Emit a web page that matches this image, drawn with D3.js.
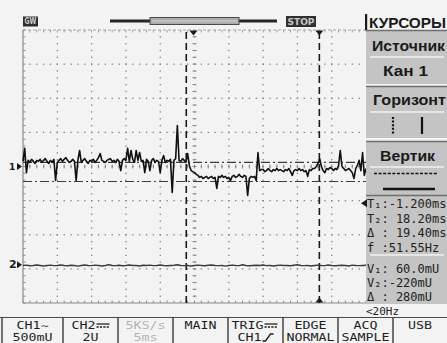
<!DOCTYPE html>
<html>
<head>
<meta charset="utf-8">
<script src="https://cdn.jsdelivr.net/npm/d3@7"></script>
<style>
  html, body { margin: 0; padding: 0; background: #f3f3f3; }
  svg { display: block; }
</style>
</head>
<body>
<svg id="scope" width="447" height="343"></svg>
<script>
// ---- acquisition record ----
const timeStartMs = -25;          // left edge of the screen
const timeEndMs = 25;             // right edge (10 div x 5 ms)
const ch1StepMs = 0.25;
const ch2StepMs = 0.5;
const ch1mVPerDiv = 500;
const ch2mVPerDiv = 2000;
const ch1OffsetDiv = 0;
const ch2OffsetDiv = -2.88;

// CH1 samples, mV
const ch1mV = [
  75, 265, -90, 90, 60, 105, 75, 45, 90, 75,
  105, 60, 90, 115, 75, 45, 90, 60, 105, -205,
  60, 90, 115, 75, 105, 130, 90, 60, 75, 105,
  75, -205, 90, 235, 60, 90, 115, 75, 45, 90,
  75, 105, 60, 90, 130, 190, 90, 75, 60, 90,
  105, 115, 75, 90, 60, 105, 75, -60, 90, 115,
  90, 265, 75, 235, 105, 60, 235, 90, 205, 75,
  90, -90, 105, 75, -60, 90, 115, 60, 90, 75,
  -90, 90, 160, 60, 90, 75, 105, -380, 90, 115,
  600, 90, 75, 115, 90, 60, 190, 15, -60, -75,
  -90, -115, -130, -160, -145, -175, -160, -145, -175, -160,
  -145, -175, -160, -320, -145, -160, -130, -160, -145, -175,
  -160, -205, -145, -130, -160, -145, -115, -145, -160, -130,
  -145, -425, -175, -145, -160, -145, -205, 205, -60, -45,
  -45, -75, -60, -30, -60, -75, -45, -60, -30, -60,
  -45, -60, -75, -45, -60, -30, -75, -130, -60, -45,
  -60, -30, -60, -45, -75, -60, -145, -45, -60, -30,
  -30, 0, 45, 115, 0, -60, -90, -30, -45, -15,
  -30, -60, -30, -45, 15, 235, 0, -30, -60, -45,
  -30, -60, -90, -175, -30, 15, 90, -60, 205, -130, -30
];

// CH2 samples, mV
const ch2mV = [
  -40, -20, -60, -40, -10, -40, -70, -40, -20, -50,
  -40, -10, -40, -60, -30, -40, -80, -40, -10, -40,
  -50, -20, -40, -70, -40, 0, -40, -50, -30, -60,
  -40, -10, -40, -40, -70, -30, -40, -20, -50, -40,
  -10, -40, -60, -40, -30, 0, -40, -50, -40, -70,
  -40, -20, -40, -60, -30, -10, -40, -50, -40, -80,
  -40, -20, -40, -50, 0, -40, -60, -40, -30, -40,
  -10, -50, -40, -70, -40, -20, -40, -40, -60, -30,
  0, -40, -50, -40, -70, -40, -20, -40, -50, -10,
  -40, -60, -40, -30, -40, -70, -20, -40, -50, -40,
  -30
];

// cursor positions and trigger
const cursorTms = [-1.2, 18.2];
const cursorVmV = [60, -220];
const triggerLevelmV = -540;

// right-hand menu and readouts
const menuTitle = "КУРСОРЫ";
const menuItems = [["Источник", "Кан 1"], ["Горизонт", null], ["Вертик", null]];
const timeReadouts = ["T₁:-1.200ms", "T₂: 18.20ms", "Δ : 19.40ms", "f :51.55Hz"];
const voltReadouts = ["V₁: 60.0mU", "V₂:-220mU", "Δ : 280mU"];
const filterNote = "<20Hz";

// status bar cells: [top line, bottom line, greyed]
const statusCells = [
  ["CH1∼", "500mU", false],
  ["CH2", "2U", false],
  ["5KS/s", "5ms", true],
  ["MAIN", "", false],
  ["TRIG", "CH1", false],
  ["EDGE", "NORMAL", false],
  ["ACQ", "SAMPLE", false],
  ["USB", "", false]
];

// ---- drawing ----
const svg = d3.select("#scope");
const X0 = 23, X1 = 366, Y0 = 30, Y1 = 303;
const x = d3.scaleLinear().domain([timeStartMs, timeEndMs]).range([X0, X1]);
const yDiv = d3.scaleLinear().domain([-4, 4]).range([Y1, Y0]);
const y1 = v => yDiv(ch1OffsetDiv + v / ch1mVPerDiv);
const y2 = v => yDiv(ch2OffsetDiv + v / ch2mVPerDiv);

function label(sel, px, py, s, o = {}) {
  const t = sel.append("text")
    .attr("x", px).attr("y", py)
    .attr("dominant-baseline", "central")
    .attr("font-family", o.family || "DejaVu Sans Mono")
    .attr("font-size", o.size || 12)
    .attr("font-weight", o.weight || "normal")
    .attr("fill", o.fill || "#1a1a1a")
    .attr("text-anchor", o.anchor || "start")
    .text(s);
  if (o.len) t.attr("textLength", o.len).attr("lengthAdjust", "spacingAndGlyphs");
  return t;
}

svg.append("rect").attr("width", 447).attr("height", 343).attr("fill", "#f3f3f3");

// graticule
const grid = svg.append("g");
const xMinor = d3.range(0, 50.001, 1).map(k => X0 + k * (X1 - X0) / 50);
const yMinor = d3.range(0, 40.001, 1).map(k => Y0 + k * (Y1 - Y0) / 40);
const xMajor = d3.range(-20, 21, 5).map(t => x(t));
const yMajor = d3.range(-3, 4, 1).map(d => yDiv(d));

xMajor.forEach(gx => {
  yMinor.slice(1, -1).forEach(gy => {
    grid.append("rect").attr("x", gx - 0.6).attr("y", gy - 0.6)
      .attr("width", 1.3).attr("height", 1.3).attr("fill", "#7d7d7d");
  });
});
yMajor.forEach(gy => {
  xMinor.slice(1, -1).forEach(gx => {
    grid.append("rect").attr("x", gx - 0.6).attr("y", gy - 0.6)
      .attr("width", 1.3).attr("height", 1.3).attr("fill", "#7d7d7d");
  });
});
// centre cross ticks
const cx = x(0), cy = yDiv(0);
yMinor.slice(1, -1).forEach(gy => {
  grid.append("line").attr("x1", cx - 2).attr("x2", cx + 2).attr("y1", gy).attr("y2", gy)
    .attr("stroke", "#8a8a8a").attr("stroke-width", 1);
});
xMinor.slice(1, -1).forEach(gx => {
  grid.append("line").attr("x1", gx).attr("x2", gx).attr("y1", cy - 2).attr("y2", cy + 2)
    .attr("stroke", "#8a8a8a").attr("stroke-width", 1);
});
// frame
grid.append("line").attr("x1", X0).attr("x2", X0).attr("y1", Y0).attr("y2", Y1)
  .attr("stroke", "#8c8c8c").attr("stroke-width", 1.2);
grid.append("line").attr("x1", X0).attr("x2", X1).attr("y1", Y1).attr("y2", Y1)
  .attr("stroke", "#8c8c8c").attr("stroke-width", 1.2);
grid.append("line").attr("x1", X0).attr("x2", X1).attr("y1", Y0).attr("y2", Y0)
  .attr("stroke", "#a5a5a5").attr("stroke-width", 1).attr("stroke-dasharray", "3,2");
yMinor.forEach(gy => grid.append("line").attr("x1", X0).attr("x2", X0 + 2.5).attr("y1", gy).attr("y2", gy)
  .attr("stroke", "#8c8c8c"));
xMinor.forEach(gx => {
  grid.append("line").attr("x1", gx).attr("x2", gx).attr("y1", Y1 - 2.5).attr("y2", Y1).attr("stroke", "#8c8c8c");
  grid.append("line").attr("x1", gx).attr("x2", gx).attr("y1", Y0).attr("y2", Y0 + 2.5).attr("stroke", "#a0a0a0");
});

// cursors
const cur = svg.append("g");
cursorTms.forEach(t => {
  cur.append("line").attr("x1", x(t)).attr("x2", x(t)).attr("y1", Y0 + 2).attr("y2", Y1)
    .attr("stroke", "#1b1b1b").attr("stroke-width", 1.6).attr("stroke-dasharray", "7,4");
});
cursorVmV.forEach(v => {
  cur.append("line").attr("x1", X0).attr("x2", X1).attr("y1", y1(v)).attr("y2", y1(v))
    .attr("stroke", "#3a3a3a").attr("stroke-width", 1.2).attr("stroke-dasharray", "9,3,2,3");
});

// traces
const line1 = d3.line().x((d, i) => x(timeStartMs + i * ch1StepMs)).y(d => y1(d));
const line2 = d3.line().x((d, i) => x(timeStartMs + i * ch2StepMs)).y(d => y2(d));
svg.append("path").datum(ch2mV).attr("d", line2).attr("fill", "none")
  .attr("stroke", "#3c3c3c").attr("stroke-width", 1.4).attr("stroke-linejoin", "round");
svg.append("path").datum(ch1mV).attr("d", line1).attr("fill", "none")
  .attr("stroke", "#111").attr("stroke-width", 1.6).attr("stroke-linejoin", "round");

// channel ground markers
function chMarker(txt, gy, size) {
  label(svg, 9, gy, txt, { size: size, weight: "bold", family: "DejaVu Sans" });
  svg.append("path").attr("d", `M17,${gy - 3.5} L22,${gy} L17,${gy + 3.5} Z`).attr("fill", "#1a1a1a");
}
chMarker("1", y1(0), 9);
chMarker("2", y2(0), 11);

// trigger position / cursor markers
const tri = (px, py, dir) => dir === "down"
  ? `M${px - 4},${py} L${px + 4},${py} L${px},${py + 5} Z`
  : `M${px - 4},${py} L${px + 4},${py} L${px},${py - 5} Z`;
svg.append("path").attr("d", tri(x(0) - 1, Y0 + 0.5, "down")).attr("fill", "#1a1a1a");
svg.append("path").attr("d", tri(x(cursorTms[1]), Y0 + 0.5, "down")).attr("fill", "#1a1a1a");
svg.append("path").attr("d", tri(x(cursorTms[1]), Y1 - 0.5, "up")).attr("fill", "#1a1a1a");

// top bar: logo, memory bar, run state
svg.append("rect").attr("x", 23).attr("y", 16.5).attr("width", 15).attr("height", 10).attr("fill", "#2e2e2e");
label(svg, 30.5, 21.8, "GW", { size: 8, weight: "bold", fill: "#d0d0d0", anchor: "middle", family: "DejaVu Sans", len: 12 });
svg.append("line").attr("x1", 110).attr("x2", 277).attr("y1", 21).attr("y2", 21)
  .attr("stroke", "#262626").attr("stroke-width", 3);
svg.append("rect").attr("x", 150).attr("y", 17.5).attr("width", 89).attr("height", 7)
  .attr("fill", "#adadad").attr("stroke", "#4a4a4a").attr("stroke-width", 1);
svg.append("line").attr("x1", 152).attr("x2", 237).attr("y1", 21).attr("y2", 21)
  .attr("stroke", "#d8d8d8").attr("stroke-width", 1);
svg.append("rect").attr("x", 286).attr("y", 16).attr("width", 30).attr("height", 11).attr("fill", "#303030");
label(svg, 301, 21.8, "STOP", { size: 9, weight: "bold", fill: "#c8c8c8", anchor: "middle", family: "DejaVu Sans", len: 27 });

// right-hand menu
const menu = svg.append("g");
menu.append("rect").attr("x", 365).attr("y", 14).attr("width", 2.2).attr("height", 16).attr("fill", "#1a1a1a");
label(menu, 369, 22.5, menuTitle, { size: 14, weight: "bold", family: "Liberation Sans", len: 77 });

const boxes = [[31, 53], [87, 51], [142, 53], [196, 108]];
boxes.forEach(([by, bh]) => {
  menu.append("rect").attr("x", 366).attr("y", by).attr("width", 81).attr("height", bh)
    .attr("fill", "#c4c4c4");
  menu.append("line").attr("x1", 366).attr("x2", 447).attr("y1", by - 0.5).attr("y2", by - 0.5)
    .attr("stroke", "#6e6e6e").attr("stroke-width", 1.5);
});
const sep = yy => menu.append("line").attr("x1", 370).attr("x2", 444).attr("y1", yy).attr("y2", yy)
  .attr("stroke", "#f2f2f2").attr("stroke-width", 1.5);
sep(57); sep(112); sep(167); sep(255);

label(menu, 372, 45, menuItems[0][0], { size: 15, weight: "bold", family: "Liberation Sans", len: 73 });
label(menu, 383, 70, menuItems[0][1], { size: 15, weight: "bold", family: "Liberation Sans", len: 45 });
label(menu, 373, 99, menuItems[1][0], { size: 15, weight: "bold", family: "Liberation Sans", len: 73 });
menu.append("line").attr("x1", 393).attr("x2", 393).attr("y1", 117).attr("y2", 134)
  .attr("stroke", "#111").attr("stroke-width", 2.2).attr("stroke-dasharray", "2,1.6");
menu.append("line").attr("x1", 422).attr("x2", 422).attr("y1", 117).attr("y2", 134)
  .attr("stroke", "#111").attr("stroke-width", 2.2);
label(menu, 380, 155, menuItems[2][0], { size: 15, weight: "bold", family: "Liberation Sans", len: 55 });
menu.append("line").attr("x1", 374).attr("x2", 437).attr("y1", 173.5).attr("y2", 173.5)
  .attr("stroke", "#111").attr("stroke-width", 1.6).attr("stroke-dasharray", "3,1.6");
menu.append("line").attr("x1", 383).attr("x2", 435).attr("y1", 189).attr("y2", 189)
  .attr("stroke", "#111").attr("stroke-width", 2.6);

timeReadouts.forEach((s, i) => label(menu, 367, 204 + i * 14.6, s, { size: 12, fill: "#222" }));
voltReadouts.forEach((s, i) => label(menu, 367, 268.5 + i * 14, s, { size: 12, fill: "#222" }));

// trigger level marker
menu.append("path")
  .attr("d", `M361,${y1(triggerLevelmV)} L367,${y1(triggerLevelmV) - 4} L367,${y1(triggerLevelmV) + 4} Z`)
  .attr("fill", "#1a1a1a");

label(svg, 366, 311, filterNote, { size: 11, fill: "#222" });

// status bar
const bar = svg.append("g");
const cellEdges = [2, 63, 118, 173, 228, 283, 338, 393, 447];
bar.append("line").attr("x1", 0).attr("x2", 447).attr("y1", 317.5).attr("y2", 317.5)
  .attr("stroke", "#4a4a4a").attr("stroke-width", 1.2);
cellEdges.slice(0, -1).forEach(ex => bar.append("line").attr("x1", ex).attr("x2", ex)
  .attr("y1", 317.5).attr("y2", 343).attr("stroke", "#3a3a3a").attr("stroke-width", 1.4));

function barText(s, cxp, cyp, grey) {
  return label(bar, cxp, cyp, s, { size: 10, anchor: "middle", fill: grey ? "#b3b3b3" : "#1e1e1e", len: s.length * 8 });
}
function dcSymbol(px, py) {
  bar.append("line").attr("x1", px).attr("x2", px + 13).attr("y1", py - 1.5).attr("y2", py - 1.5)
    .attr("stroke", "#222").attr("stroke-width", 1.3);
  bar.append("line").attr("x1", px).attr("x2", px + 13).attr("y1", py + 1.5).attr("y2", py + 1.5)
    .attr("stroke", "#222").attr("stroke-width", 1.3).attr("stroke-dasharray", "2.2,1.2");
}
const rowTop = 325.5, rowBottom = 337.5;
statusCells.forEach(([top, bottom, grey], i) => {
  const c = (cellEdges[i] + cellEdges[i + 1]) / 2;
  if (top === "CH2") {
    barText(top, c - 7, rowTop, grey); dcSymbol(c + 6, rowTop);
  } else if (top === "TRIG") {
    barText(top, c - 8, rowTop, grey); dcSymbol(c + 9, rowTop);
  } else {
    barText(top, c, rowTop, grey);
  }
  if (bottom === "CH1") {
    barText(bottom, c - 6, rowBottom, grey);
    bar.append("path").attr("d", `M${c + 7},${341} L${c + 10},${341} L${c + 15},${334} L${c + 18},${334}`)
      .attr("fill", "none").attr("stroke", "#222").attr("stroke-width", 1.4);
  } else if (bottom) {
    barText(bottom, c, rowBottom, grey);
  }
});
</script>
</body>
</html>
